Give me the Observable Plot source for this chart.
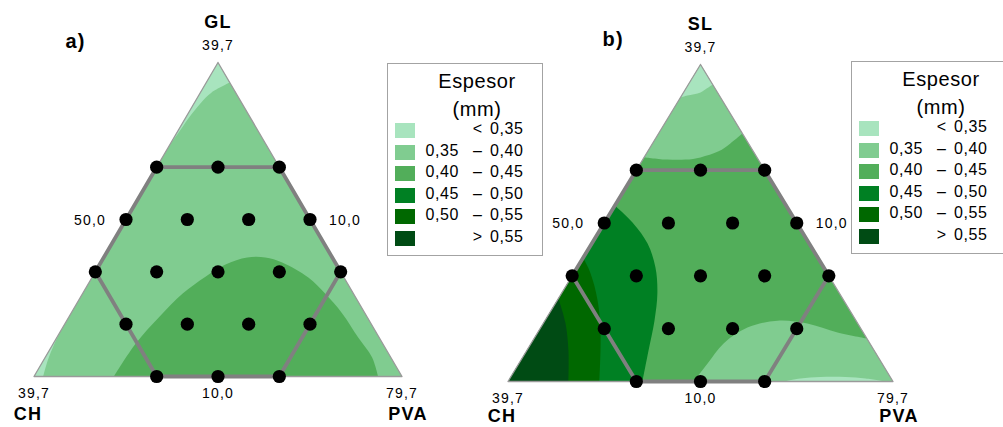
<!DOCTYPE html>
<html><head><meta charset="utf-8">
<script src="https://cdn.jsdelivr.net/npm/d3@7"></script>
<script src="https://cdn.jsdelivr.net/npm/@observablehq/plot@0.6"></script>
<style>
body{margin:0;background:#fff;}
#root{position:relative;width:1003px;height:427px;overflow:hidden;font-family:"Liberation Sans",Arial,sans-serif;}
.panel{position:absolute;top:0;}
.legend{position:absolute;width:156px;height:193px;box-sizing:border-box;border:1.5px solid #a3a3a3;background:#fff;color:#000;}
.legend span,.legend div{position:absolute;white-space:pre;}
.lt{left:0;width:178px;text-align:center;font-size:20px;line-height:20px;letter-spacing:0.6px;}
.sw{left:6.5px;width:20px;height:15px;}
.lo{left:37.5px;font-size:16px;line-height:16px;letter-spacing:0.6px;}
.sy{left:79.5px;width:20px;text-align:center;font-size:16px;line-height:16px;}
.hi{left:85.5px;width:50px;text-align:right;font-size:16px;line-height:16px;letter-spacing:0.6px;}
</style></head><body><div id="root"></div>
<script>
// ---------- data ----------
const bandColors = ["#a8e4be", "#80cc90", "#52ae5a", "#008023", "#006800", "#004b14"];
const bandLo  = ["", "0,35", "0,40", "0,45", "0,50", ""];
const bandSym = ["<", "–", "–", "–", "–", ">"];
const bandHi  = ["0,35", "0,40", "0,45", "0,50", "0,55", "0,55"];
const legendTitle = ["Espesor", "(mm)"];

const vertexTicks = ["39,7", "39,7", "79,7"];       // top, left (CH), right (PVA)
const sideTicks = ["50,0", "10,0", "10,0"];          // left side, right side, base
const namesA = ["GL", "CH", "PVA"];
const namesB = ["SL", "CH", "PVA"];

// design points in sixths: [top, left (CH), right (PVA)]
const designPoints = [
  [4,2,0],[4,1,1],[4,0,2],
  [3,3,0],[3,2,1],[3,1,2],[3,0,3],
  [2,4,0],[2,3,1],[2,2,2],[2,1,3],[2,0,4],
  [1,4,1],[1,3,2],[1,2,3],[1,1,4],
  [0,4,2],[0,3,3],[0,2,4]
];
const hexagon = [[4,2,0],[4,0,2],[2,0,4],[0,2,4],[0,4,2],[2,4,0],[4,2,0]];

// contour regions: boundary in composition fractions [top, right(PVA)], tail = corners joined straight
const regionsA = [
  {band: 0, curve: [[0.742,0],[0.77,0.004],[0.825,0.009],[0.873,0.018],[0.904,0.03],[0.936,0.064]], tail: [[1,0]]},
  {band: 0, curve: [[0,0.025],[0.05,0.012],[0.10,0.004],[0.145,0]], tail: [[0,0]]},
  {band: 2, curve: [[0,0.217],[0.105,0.224],[0.188,0.245],[0.264,0.272],[0.318,0.307],[0.357,0.342],[0.379,0.390],[0.379,0.439],[0.363,0.493],[0.315,0.588],[0.264,0.659],[0.201,0.737],[0.124,0.819],[0.061,0.888],[0,0.935]], tail: []}
];
const regionsB = [
  {band: 1, curve: [[0.707,0],[0.700,0.064],[0.700,0.111],[0.707,0.1465],[0.726,0.184],[0.751,0.202],[0.782,0.218]], tail: [[1,0]]},
  {band: 0, curve: [[0.896,0],[0.902,0.015],[0.912,0.044],[0.924,0.054],[0.937,0.063]], tail: [[1,0]]},
  {band: 3, curve: [[0.555,0],[0.498,0.077],[0.435,0.145],[0.360,0.203],[0.278,0.249],[0.192,0.2845],[0.098,0.316],[0,0.349]], tail: [[0,0]]},
  {band: 4, curve: [[0.39,0],[0.341,0.044],[0.2555,0.105],[0.151,0.165],[0,0.237]], tail: [[0,0]]},
  {band: 5, curve: [[0.262,0],[0.186,0.056],[0.098,0.108],[0,0.157]], tail: [[0,0]]},
  {band: 1, curve: [[0,0.482],[0.0568,0.490],[0.12,0.500],[0.170,0.537],[0.192,0.604],[0.183,0.686],[0.1546,0.7785],[0.1356,0.864]], tail: [[0,1]]},
  {band: 0, curve: [[0,0.7156],[0.0095,0.755],[0.0142,0.8046],[0.0142,0.8695],[0.0095,0.924],[0,0.9805]], tail: []}
];

// ---------- layout ----------
const FONT = '"Liberation Sans", Arial, sans-serif';
const panels = [
  {left: 0, width: 500, xRange: [33.5, 401.5], yRange: [376, 62], names: namesA, nameDy: 38, letter: "a)", letterPos: [65, 33], regions: regionsA, baseBand: 1, legend: [387, 63]},
  {left: 460, width: 543, xRange: [47.5, 432.5], yRange: [381, 64], names: namesB, nameDy: 35, letter: "b)", letterPos: [142, 31], regions: regionsB, baseBand: 2, legend: [851, 61]}
];

const toXY = ([g, p]) => ({x: p + g / 2, y: g});
const fromSixths = ([t, l, r]) => toXY([t / 6, r / 6]);
function regionPath(r) {
  const pts = r.curve.map(toXY);
  if (!r.tail.length) return pts;
  const out = [...pts, pts[pts.length - 1]];
  for (const t of r.tail) { const q = toXY(t); out.push(q, q); }
  return out;
}
const V = {top: toXY([1, 0]), left: toXY([0, 0]), right: toXY([0, 1])};
const edgeMid = {left: toXY([0.5, 0]), right: toXY([0.5, 0.5]), base: toXY([0, 0.5])};

function txt(pt, s, o) {
  return Plot.text([pt], {x: "x", y: "y", text: () => s, fontSize: 14, fill: "#000", ...o});
}

const root = document.getElementById("root");
for (const P of panels) {
  const marks = [
    Plot.line([V.top, V.left, V.right], {x: "x", y: "y", fill: bandColors[P.baseBand], stroke: "none"}),
    ...P.regions.map(r => Plot.line(regionPath(r), {x: "x", y: "y", fill: bandColors[r.band], stroke: "none", curve: "catmull-rom"})),
    Plot.line([V.top, V.left, V.right, V.top], {x: "x", y: "y", stroke: "#9a9a9a", strokeWidth: 1.3}),
    Plot.line(hexagon.map(fromSixths), {x: "x", y: "y", stroke: "#808080", strokeWidth: 3.8, strokeLinejoin: "round"}),
    Plot.dot(designPoints.map(fromSixths), {x: "x", y: "y", r: 6.6, fill: "#000", stroke: "none"}),
    txt(V.top, P.names[0], {dy: -40, fontSize: 18, fontWeight: "bold"}),
    txt(V.top, vertexTicks[0], {dy: -17}),
    txt(V.left, vertexTicks[1], {dy: 17}),
    txt(V.left, P.names[1], {dy: P.nameDy, dx: -6, fontSize: 18, fontWeight: "bold"}),
    txt(V.right, vertexTicks[2], {dy: 17}),
    txt(V.right, P.names[2], {dy: P.nameDy, dx: 6, fontSize: 18, fontWeight: "bold"}),
    txt(edgeMid.left, sideTicks[0], {dx: -20, dy: 1, textAnchor: "end"}),
    txt(edgeMid.right, sideTicks[1], {dx: 19, dy: 1, textAnchor: "start"}),
    txt(edgeMid.base, sideTicks[2], {dy: 17}),
    Plot.text([P.letter], {frameAnchor: "top-left", dx: P.letterPos[0], dy: P.letterPos[1], text: d => d, fontSize: 20, fontWeight: "bold", fill: "#000"})
  ];
  const svg = Plot.plot({
    width: P.width, height: 427, margin: 0,
    x: {domain: [0, 1], range: P.xRange, axis: null},
    y: {domain: [0, 1], range: P.yRange, axis: null},
    style: `background:transparent;overflow:visible;font-family:${FONT};letter-spacing:1.2px;`,
    marks
  });
  const wrap = document.createElement("div");
  wrap.className = "panel";
  wrap.style.left = P.left + "px";
  wrap.appendChild(svg);
  root.appendChild(wrap);
}

// legends
for (const P of panels) {
  const box = document.createElement("div");
  box.className = "legend";
  box.style.left = P.legend[0] + "px";
  box.style.top = P.legend[1] + "px";
  const tops = [6.5, 34.5];
  legendTitle.forEach((t, i) => {
    const s = document.createElement("div"); s.className = "lt"; s.style.top = tops[i] + "px"; s.textContent = t; box.appendChild(s);
  });
  bandColors.forEach((c, i) => {
    const cy = 68 + i * 21.5;
    const sw = document.createElement("div"); sw.className = "sw"; sw.style.top = (cy - 9) + "px"; sw.style.background = c; box.appendChild(sw);
    const lo = document.createElement("span"); lo.className = "lo"; lo.style.top = (cy - 10.8) + "px"; lo.textContent = bandLo[i]; box.appendChild(lo);
    const sy = document.createElement("span"); sy.className = "sy"; sy.style.top = (cy - 10.8) + "px"; sy.textContent = bandSym[i]; box.appendChild(sy);
    const hi = document.createElement("span"); hi.className = "hi"; hi.style.top = (cy - 10.8) + "px"; hi.textContent = bandHi[i]; box.appendChild(hi);
  });
  root.appendChild(box);
}
</script></body></html>
